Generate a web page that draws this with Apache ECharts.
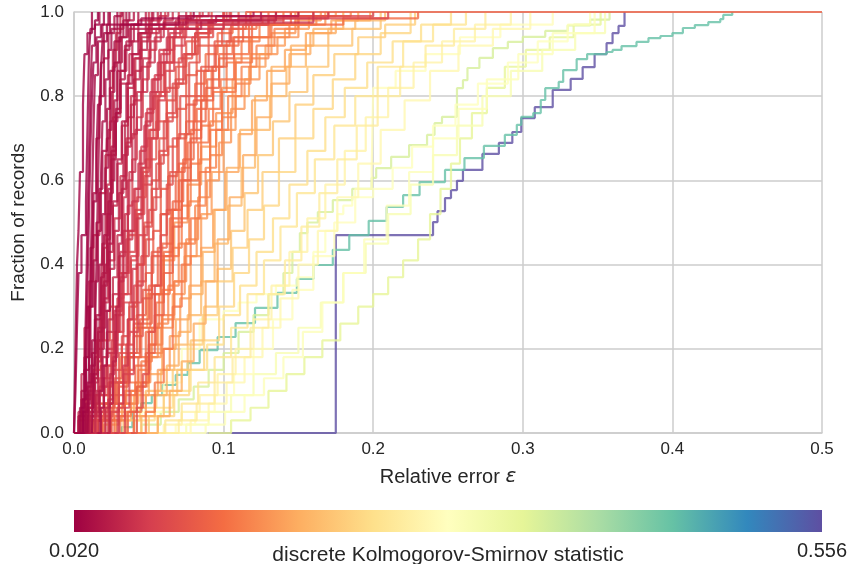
<!DOCTYPE html>
<html>
<head>
<meta charset="utf-8">
<script src="https://cdn.jsdelivr.net/npm/echarts@6/dist/echarts.min.js"></script>
<style>
  html, body { margin: 0; padding: 0; background: #fff; }
  #myChart { width: 849px; height: 564px; }
</style>
</head>
<body>
<div id="myChart"></div>
<script>
let myChart = echarts.init(document.getElementById('myChart'));

// colour scale ends (discrete KS statistic)
const ksMin = 0.020;
const ksMax = 0.556;

// KS statistic of every curve (same order as curves)
const ksStat = [
  0.020, 0.023, 0.026, 0.029, 0.032, 0.035, 0.038, 0.041, 0.044, 0.047, 0.050, 0.054, 0.057, 0.060,
  0.065, 0.070, 0.075, 0.080, 0.085, 0.090, 0.095, 0.100, 0.105, 0.110, 0.115,
  0.120, 0.126, 0.132, 0.138, 0.145, 0.152, 0.160, 0.168, 0.176, 0.185, 0.194,
  0.205, 0.215, 0.225, 0.235, 0.245, 0.255,
  0.265, 0.275, 0.285, 0.295, 0.305,
  0.028, 0.040, 0.052, 0.062, 0.080, 0.098, 0.125, 0.160,
  0.022, 0.025, 0.030, 0.034, 0.037, 0.043, 0.048, 0.053, 0.058, 0.063, 0.068,
  0.073, 0.078, 0.083, 0.088, 0.093, 0.103, 0.112, 0.118, 0.135, 0.150, 0.180,
  0.290, 0.340, 0.355, 0.450, 0.556
];

// step points [relative error, fraction of records] of each ECDF
const curves = [
  [[0.000,0],[0.001,0.10],[0.002,0.25],[0.003,0.38],[0.005,0.47],[0.008,0.55],[0.009,0.72],[0.010,0.90],[0.011,0.96],[0.014,0.98],[0.016,1]],
  [[0.002,0],[0.006,0.08],[0.008,0.20],[0.009,0.35],[0.010,0.52],[0.011,0.68],[0.012,0.80],[0.013,0.88],[0.015,0.94],[0.018,0.97],[0.020,1]],
  [[0.001,0],[0.004,0.06],[0.007,0.15],[0.010,0.30],[0.012,0.42],[0.013,0.55],[0.015,0.66],[0.016,0.78],[0.018,0.86],[0.019,0.93],[0.022,0.97],[0.045,0.985],[0.080,1]],
  [[0.003,0],[0.006,0.05],[0.009,0.12],[0.012,0.22],[0.014,0.36],[0.016,0.48],[0.018,0.60],[0.019,0.74],[0.021,0.84],[0.023,0.91],[0.025,0.96],[0.029,1]],
  [[0.000,0],[0.003,0.04],[0.005,0.10],[0.008,0.18],[0.011,0.30],[0.013,0.41],[0.015,0.50],[0.017,0.58],[0.019,0.67],[0.022,0.77],[0.024,0.86],[0.027,0.93],[0.031,0.97],[0.070,0.99],[0.120,1]],
  [[0.004,0],[0.008,0.07],[0.011,0.16],[0.014,0.27],[0.017,0.40],[0.019,0.52],[0.021,0.63],[0.023,0.72],[0.025,0.81],[0.027,0.88],[0.030,0.94],[0.033,0.98],[0.037,1]],
  [[0.001,0],[0.005,0.05],[0.009,0.11],[0.012,0.19],[0.015,0.28],[0.018,0.37],[0.020,0.47],[0.023,0.58],[0.025,0.67],[0.028,0.77],[0.031,0.86],[0.034,0.92],[0.038,0.97],[0.043,1]],
  [[0.005,0],[0.009,0.06],[0.013,0.14],[0.016,0.24],[0.019,0.35],[0.022,0.46],[0.024,0.57],[0.026,0.66],[0.028,0.76],[0.031,0.84],[0.034,0.91],[0.037,0.96],[0.060,0.975],[0.095,0.99],[0.150,1]],
  [[0.002,0],[0.006,0.04],[0.010,0.10],[0.014,0.18],[0.017,0.27],[0.020,0.36],[0.023,0.45],[0.026,0.55],[0.029,0.65],[0.032,0.74],[0.035,0.83],[0.039,0.90],[0.043,0.95],[0.048,0.98],[0.053,1]],
  [[0.008,0],[0.011,0.05],[0.014,0.13],[0.016,0.22],[0.018,0.33],[0.019,0.45],[0.021,0.58],[0.022,0.70],[0.024,0.82],[0.026,0.91],[0.029,0.96],[0.033,1]],
  [[0.003,0],[0.008,0.05],[0.012,0.12],[0.016,0.20],[0.020,0.29],[0.024,0.39],[0.027,0.48],[0.030,0.57],[0.033,0.66],[0.036,0.75],[0.040,0.84],[0.044,0.91],[0.049,0.96],[0.085,0.98],[0.135,1]],
  [[0.006,0],[0.010,0.04],[0.015,0.10],[0.019,0.18],[0.023,0.27],[0.026,0.37],[0.029,0.47],[0.032,0.58],[0.035,0.68],[0.038,0.78],[0.041,0.86],[0.045,0.93],[0.050,0.97],[0.056,1]],
  [[0.011,0],[0.014,0.07],[0.016,0.17],[0.018,0.30],[0.020,0.44],[0.022,0.59],[0.024,0.74],[0.026,0.87],[0.028,0.95],[0.031,1]],
  [[0.004,0],[0.009,0.04],[0.014,0.09],[0.018,0.16],[0.022,0.24],[0.026,0.33],[0.030,0.42],[0.034,0.52],[0.037,0.62],[0.041,0.72],[0.045,0.81],[0.049,0.88],[0.054,0.94],[0.060,0.98],[0.066,1]],
  [[0.007,0],[0.012,0.05],[0.017,0.11],[0.022,0.19],[0.027,0.28],[0.031,0.37],[0.035,0.46],[0.039,0.55],[0.043,0.64],[0.047,0.73],[0.051,0.81],[0.056,0.88],[0.062,0.94],[0.068,0.98],[0.075,1]],
  [[0.002,0],[0.007,0.03],[0.012,0.07],[0.017,0.13],[0.022,0.20],[0.027,0.29],[0.032,0.38],[0.036,0.48],[0.040,0.58],[0.044,0.67],[0.048,0.76],[0.053,0.84],[0.058,0.90],[0.064,0.95],[0.072,0.97],[0.110,0.985],[0.170,1]],
  [[0.010,0],[0.015,0.06],[0.020,0.13],[0.025,0.22],[0.029,0.32],[0.033,0.43],[0.036,0.54],[0.039,0.65],[0.042,0.75],[0.046,0.84],[0.050,0.91],[0.055,0.96],[0.061,1]],
  [[0.005,0],[0.011,0.04],[0.017,0.09],[0.023,0.16],[0.028,0.24],[0.033,0.33],[0.038,0.42],[0.043,0.52],[0.047,0.61],[0.051,0.70],[0.056,0.79],[0.061,0.86],[0.067,0.92],[0.074,0.96],[0.082,0.99],[0.090,1]],
  [[0.013,0],[0.018,0.05],[0.023,0.12],[0.028,0.21],[0.033,0.31],[0.038,0.41],[0.042,0.52],[0.046,0.62],[0.050,0.72],[0.055,0.81],[0.060,0.88],[0.066,0.94],[0.073,0.98],[0.140,0.99],[0.200,1]],
  [[0.008,0],[0.014,0.04],[0.020,0.09],[0.026,0.15],[0.032,0.23],[0.037,0.31],[0.042,0.40],[0.047,0.49],[0.052,0.58],[0.057,0.67],[0.062,0.76],[0.068,0.84],[0.074,0.90],[0.081,0.95],[0.090,0.98],[0.100,1]],
  [[0.003,0],[0.010,0.03],[0.017,0.07],[0.024,0.12],[0.030,0.19],[0.036,0.27],[0.042,0.36],[0.048,0.46],[0.053,0.56],[0.058,0.66],[0.063,0.75],[0.069,0.83],[0.075,0.90],[0.083,0.95],[0.092,0.98],[0.102,1]],
  [[0.015,0],[0.021,0.06],[0.027,0.13],[0.032,0.21],[0.037,0.30],[0.042,0.40],[0.047,0.50],[0.052,0.60],[0.057,0.70],[0.062,0.79],[0.068,0.87],[0.075,0.93],[0.083,0.97],[0.092,1]],
  [[0.006,0],[0.013,0.03],[0.020,0.07],[0.027,0.12],[0.034,0.18],[0.040,0.26],[0.046,0.34],[0.052,0.43],[0.058,0.52],[0.063,0.61],[0.069,0.70],[0.075,0.78],[0.082,0.86],[0.090,0.92],[0.099,0.96],[0.110,1]],
  [[0.018,0],[0.024,0.05],[0.030,0.11],[0.036,0.19],[0.042,0.28],[0.048,0.38],[0.053,0.48],[0.058,0.58],[0.063,0.68],[0.069,0.77],[0.075,0.85],[0.082,0.92],[0.090,0.96],[0.100,1]],
  [[0.009,0],[0.016,0.03],[0.023,0.07],[0.030,0.12],[0.037,0.19],[0.044,0.27],[0.050,0.35],[0.056,0.44],[0.062,0.53],[0.068,0.62],[0.074,0.71],[0.080,0.79],[0.087,0.86],[0.095,0.92],[0.104,0.96],[0.115,1],[0.500,1]],
  [[0.004,0],[0.012,0.03],[0.020,0.07],[0.028,0.12],[0.036,0.18],[0.044,0.25],[0.051,0.33],[0.058,0.42],[0.064,0.51],[0.070,0.60],[0.076,0.69],[0.082,0.77],[0.089,0.84],[0.097,0.90],[0.106,0.94],[0.117,0.97],[0.130,1]],
  [[0.020,0],[0.027,0.04],[0.034,0.09],[0.041,0.16],[0.048,0.24],[0.054,0.33],[0.060,0.43],[0.066,0.53],[0.072,0.63],[0.078,0.72],[0.085,0.80],[0.092,0.87],[0.100,0.92],[0.110,0.96],[0.122,0.97],[0.180,0.985],[0.230,1]],
  [[0.011,0],[0.019,0.03],[0.027,0.07],[0.035,0.12],[0.043,0.18],[0.050,0.25],[0.057,0.33],[0.064,0.42],[0.070,0.51],[0.076,0.60],[0.083,0.69],[0.090,0.77],[0.098,0.84],[0.107,0.90],[0.117,0.94],[0.130,0.97],[0.145,1]],
  [[0.024,0],[0.031,0.04],[0.038,0.10],[0.045,0.17],[0.052,0.25],[0.059,0.34],[0.066,0.44],[0.072,0.54],[0.078,0.64],[0.085,0.73],[0.093,0.81],[0.102,0.88],[0.112,0.93],[0.124,0.97],[0.140,1]],
  [[0.007,0],[0.016,0.03],[0.025,0.06],[0.034,0.10],[0.043,0.15],[0.051,0.21],[0.059,0.28],[0.067,0.36],[0.074,0.45],[0.081,0.54],[0.088,0.63],[0.095,0.72],[0.103,0.80],[0.112,0.87],[0.122,0.92],[0.134,0.96],[0.150,1]],
  [[0.028,0],[0.035,0.05],[0.042,0.11],[0.049,0.18],[0.056,0.26],[0.063,0.35],[0.070,0.45],[0.077,0.55],[0.084,0.65],[0.091,0.74],[0.099,0.82],[0.108,0.89],[0.118,0.94],[0.131,0.97],[0.148,1]],
  [[0.014,0],[0.023,0.03],[0.032,0.07],[0.041,0.12],[0.050,0.18],[0.058,0.25],[0.066,0.33],[0.074,0.42],[0.082,0.51],[0.089,0.60],[0.097,0.69],[0.105,0.77],[0.114,0.84],[0.124,0.90],[0.136,0.94],[0.150,0.97],[0.168,1]],
  [[0.032,0],[0.040,0.04],[0.048,0.09],[0.056,0.15],[0.064,0.23],[0.071,0.32],[0.078,0.42],[0.085,0.52],[0.092,0.62],[0.100,0.72],[0.108,0.80],[0.117,0.87],[0.128,0.92],[0.141,0.96],[0.157,0.99],[0.175,1]],
  [[0.010,0],[0.020,0.02],[0.030,0.05],[0.040,0.09],[0.050,0.14],[0.059,0.20],[0.068,0.27],[0.077,0.35],[0.085,0.44],[0.093,0.53],[0.101,0.62],[0.110,0.71],[0.119,0.79],[0.129,0.86],[0.141,0.91],[0.155,0.95],[0.172,0.98],[0.190,1]],
  [[0.036,0],[0.045,0.04],[0.054,0.09],[0.062,0.16],[0.070,0.24],[0.078,0.33],[0.086,0.43],[0.094,0.53],[0.102,0.63],[0.111,0.72],[0.121,0.80],[0.132,0.87],[0.145,0.92],[0.160,0.96],[0.180,1]],
  [[0.018,0],[0.028,0.03],[0.038,0.06],[0.048,0.10],[0.058,0.15],[0.067,0.21],[0.076,0.28],[0.085,0.36],[0.094,0.45],[0.103,0.54],[0.112,0.63],[0.121,0.72],[0.131,0.80],[0.142,0.87],[0.155,0.92],[0.170,0.96],[0.188,0.98],[0.208,1]],
  [[0.040,0],[0.050,0.04],[0.060,0.09],[0.069,0.15],[0.078,0.22],[0.087,0.30],[0.096,0.39],[0.105,0.48],[0.114,0.57],[0.123,0.66],[0.133,0.74],[0.144,0.81],[0.156,0.87],[0.170,0.92],[0.186,0.96],[0.205,1]],
  [[0.022,0],[0.033,0.03],[0.044,0.06],[0.055,0.10],[0.066,0.15],[0.076,0.21],[0.086,0.28],[0.096,0.36],[0.106,0.44],[0.116,0.53],[0.126,0.62],[0.137,0.70],[0.148,0.78],[0.160,0.85],[0.174,0.90],[0.190,0.94],[0.208,0.97],[0.228,1]],
  [[0.045,0],[0.056,0.04],[0.067,0.09],[0.077,0.15],[0.087,0.22],[0.097,0.30],[0.107,0.38],[0.117,0.46],[0.127,0.54],[0.137,0.62],[0.148,0.70],[0.160,0.77],[0.173,0.84],[0.188,0.90],[0.205,0.95],[0.225,1]],
  [[0.030,0],[0.042,0.03],[0.054,0.06],[0.066,0.10],[0.078,0.15],[0.089,0.21],[0.100,0.28],[0.111,0.35],[0.122,0.43],[0.133,0.51],[0.144,0.59],[0.156,0.67],[0.168,0.75],[0.181,0.82],[0.196,0.88],[0.213,0.93],[0.232,0.97],[0.252,1]],
  [[0.050,0],[0.061,0.03],[0.072,0.07],[0.083,0.12],[0.094,0.18],[0.105,0.25],[0.116,0.33],[0.127,0.41],[0.138,0.49],[0.149,0.57],[0.161,0.65],[0.174,0.73],[0.188,0.80],[0.203,0.87],[0.220,0.93],[0.240,0.97],[0.262,1]],
  [[0.058,0],[0.070,0.03],[0.082,0.07],[0.094,0.12],[0.106,0.18],[0.118,0.25],[0.130,0.33],[0.141,0.41],[0.152,0.49],[0.164,0.57],[0.176,0.65],[0.189,0.73],[0.203,0.80],[0.218,0.87],[0.235,0.92],[0.254,0.96],[0.275,1]],
  [[0.048,0],[0.060,0.02],[0.072,0.05],[0.084,0.09],[0.096,0.14],[0.108,0.20],[0.120,0.27],[0.132,0.35],[0.144,0.43],[0.156,0.51],[0.168,0.59],[0.181,0.67],[0.195,0.75],[0.210,0.82],[0.227,0.88],[0.246,0.93],[0.268,0.97],[0.292,1]],
  [[0.065,0],[0.078,0.03],[0.090,0.07],[0.102,0.12],[0.114,0.18],[0.126,0.25],[0.138,0.32],[0.150,0.40],[0.163,0.48],[0.176,0.56],[0.190,0.64],[0.205,0.72],[0.221,0.79],[0.238,0.86],[0.257,0.92],[0.280,0.96],[0.305,1]],
  [[0.055,0],[0.068,0.02],[0.081,0.05],[0.094,0.09],[0.107,0.14],[0.120,0.20],[0.133,0.27],[0.146,0.34],[0.160,0.42],[0.174,0.50],[0.188,0.58],[0.199,0.63],[0.200,0.82],[0.215,0.86],[0.235,0.90],[0.258,0.94],[0.285,0.97],[0.320,1]],
  [[0.075,0],[0.088,0.02],[0.101,0.05],[0.114,0.09],[0.127,0.13],[0.140,0.18],[0.153,0.24],[0.166,0.31],[0.180,0.38],[0.194,0.46],[0.209,0.54],[0.224,0.62],[0.240,0.70],[0.257,0.77],[0.276,0.84],[0.297,0.90],[0.320,0.95],[0.348,1]],
  [[0.060,0],[0.075,0.02],[0.090,0.05],[0.105,0.09],[0.120,0.14],[0.135,0.19],[0.150,0.25],[0.165,0.31],[0.180,0.38],[0.195,0.45],[0.210,0.52],[0.225,0.59],[0.240,0.66],[0.256,0.73],[0.273,0.80],[0.292,0.86],[0.313,0.91],[0.335,0.95],[0.355,1]],
  [[0.009,0],[0.010,0.15],[0.011,0.35],[0.012,0.55],[0.013,0.72],[0.014,0.85],[0.016,0.93],[0.019,0.97],[0.023,1]],
  [[0.015,0],[0.017,0.10],[0.019,0.25],[0.021,0.40],[0.023,0.55],[0.025,0.68],[0.027,0.79],[0.029,0.88],[0.032,0.94],[0.036,0.98],[0.040,1]],
  [[0.001,0],[0.003,0.05],[0.005,0.14],[0.007,0.25],[0.010,0.36],[0.013,0.47],[0.017,0.57],[0.021,0.66],[0.026,0.75],[0.031,0.83],[0.037,0.90],[0.044,0.95],[0.052,1]],
  [[0.020,0],[0.023,0.08],[0.026,0.18],[0.029,0.30],[0.031,0.43],[0.033,0.56],[0.035,0.69],[0.038,0.80],[0.041,0.89],[0.045,0.95],[0.050,1]],
  [[0.025,0],[0.029,0.06],[0.033,0.14],[0.037,0.24],[0.040,0.35],[0.043,0.47],[0.046,0.59],[0.049,0.70],[0.053,0.80],[0.058,0.88],[0.064,0.94],[0.071,0.98],[0.078,1]],
  [[0.000,0],[0.004,0.04],[0.008,0.09],[0.013,0.15],[0.018,0.22],[0.024,0.30],[0.030,0.38],[0.036,0.47],[0.042,0.56],[0.048,0.65],[0.055,0.74],[0.062,0.82],[0.070,0.89],[0.079,0.94],[0.090,0.98],[0.100,1]],
  [[0.035,0],[0.040,0.05],[0.045,0.12],[0.050,0.21],[0.055,0.31],[0.060,0.42],[0.065,0.53],[0.070,0.64],[0.075,0.74],[0.081,0.83],[0.088,0.90],[0.096,0.95],[0.106,0.98],[0.118,1]],
  [[0.002,0],[0.008,0.03],[0.015,0.07],[0.023,0.12],[0.031,0.18],[0.040,0.25],[0.049,0.33],[0.058,0.41],[0.067,0.50],[0.076,0.59],[0.085,0.68],[0.095,0.76],[0.106,0.84],[0.118,0.90],[0.132,0.95],[0.148,0.98],[0.165,1]],
  [[0.000,0],[0.001,0.20],[0.002,0.40],[0.003,0.48],[0.004,0.62],[0.006,0.78],[0.007,0.90],[0.009,0.95],[0.012,1]],
  [[0.005,0],[0.007,0.12],[0.008,0.30],[0.009,0.50],[0.010,0.66],[0.011,0.82],[0.012,0.92],[0.014,0.97],[0.017,1]],
  [[0.012,0],[0.013,0.10],[0.014,0.24],[0.015,0.40],[0.016,0.58],[0.017,0.75],[0.018,0.88],[0.020,0.95],[0.024,1]],
  [[0.002,0],[0.005,0.08],[0.007,0.18],[0.009,0.30],[0.011,0.44],[0.013,0.57],[0.015,0.70],[0.017,0.80],[0.020,0.89],[0.023,0.95],[0.027,0.99],[0.032,1]],
  [[0.016,0],[0.018,0.06],[0.020,0.16],[0.022,0.29],[0.024,0.44],[0.025,0.60],[0.027,0.74],[0.029,0.86],[0.031,0.94],[0.035,1]],
  [[0.007,0],[0.010,0.06],[0.013,0.14],[0.016,0.25],[0.019,0.38],[0.022,0.52],[0.025,0.65],[0.028,0.76],[0.031,0.86],[0.035,0.93],[0.040,0.97],[0.075,0.98],[0.125,1]],
  [[0.022,0],[0.024,0.07],[0.026,0.17],[0.028,0.30],[0.030,0.45],[0.032,0.60],[0.034,0.74],[0.036,0.85],[0.039,0.93],[0.043,0.98],[0.048,1]],
  [[0.004,0],[0.008,0.06],[0.012,0.13],[0.016,0.22],[0.020,0.32],[0.023,0.43],[0.026,0.54],[0.029,0.64],[0.032,0.73],[0.036,0.82],[0.040,0.89],[0.045,0.94],[0.051,0.98],[0.058,1]],
  [[0.018,0],[0.021,0.06],[0.024,0.14],[0.027,0.24],[0.030,0.36],[0.033,0.48],[0.036,0.60],[0.039,0.71],[0.042,0.81],[0.046,0.89],[0.051,0.95],[0.057,0.99],[0.063,1]],
  [[0.000,0],[0.003,0.03],[0.007,0.08],[0.011,0.14],[0.015,0.22],[0.019,0.31],[0.023,0.41],[0.027,0.51],[0.031,0.61],[0.035,0.70],[0.040,0.79],[0.045,0.87],[0.051,0.93],[0.058,0.96],[0.100,0.975],[0.160,1]],
  [[0.027,0],[0.030,0.07],[0.033,0.16],[0.036,0.27],[0.039,0.39],[0.042,0.51],[0.045,0.63],[0.048,0.74],[0.052,0.84],[0.057,0.91],[0.063,0.96],[0.070,1]],
  [[0.010,0],[0.015,0.05],[0.020,0.11],[0.025,0.19],[0.029,0.28],[0.033,0.38],[0.037,0.48],[0.041,0.58],[0.045,0.68],[0.049,0.77],[0.054,0.85],[0.060,0.91],[0.067,0.96],[0.076,0.99],[0.086,1]],
  [[0.031,0],[0.034,0.06],[0.037,0.14],[0.040,0.24],[0.043,0.35],[0.046,0.47],[0.049,0.59],[0.052,0.70],[0.056,0.80],[0.061,0.88],[0.067,0.94],[0.075,0.98],[0.084,1]],
  [[0.003,0],[0.009,0.04],[0.015,0.09],[0.021,0.16],[0.026,0.24],[0.031,0.33],[0.036,0.43],[0.041,0.53],[0.046,0.63],[0.051,0.72],[0.057,0.81],[0.064,0.88],[0.072,0.94],[0.082,0.97],[0.130,0.985],[0.210,1]],
  [[0.020,0],[0.025,0.05],[0.030,0.12],[0.035,0.21],[0.040,0.31],[0.045,0.42],[0.050,0.53],[0.055,0.64],[0.060,0.74],[0.066,0.83],[0.073,0.90],[0.081,0.95],[0.091,0.98],[0.104,1]],
  [[0.038,0],[0.042,0.06],[0.046,0.14],[0.050,0.24],[0.054,0.35],[0.058,0.47],[0.062,0.59],[0.066,0.70],[0.071,0.80],[0.077,0.88],[0.084,0.94],[0.093,0.98],[0.105,1]],
  [[0.012,0],[0.019,0.04],[0.026,0.09],[0.033,0.15],[0.040,0.23],[0.046,0.32],[0.052,0.42],[0.058,0.52],[0.064,0.62],[0.070,0.71],[0.077,0.80],[0.085,0.87],[0.094,0.93],[0.105,0.97],[0.118,0.99],[0.135,1]],
  [[0.030,0],[0.036,0.05],[0.042,0.11],[0.048,0.19],[0.054,0.28],[0.060,0.38],[0.066,0.49],[0.072,0.60],[0.078,0.70],[0.085,0.79],[0.093,0.87],[0.102,0.93],[0.113,0.97],[0.126,0.99],[0.145,1]],
  [[0.005,0],[0.013,0.03],[0.021,0.07],[0.029,0.12],[0.037,0.18],[0.045,0.26],[0.052,0.35],[0.059,0.45],[0.066,0.55],[0.073,0.65],[0.080,0.74],[0.088,0.82],[0.097,0.89],[0.107,0.94],[0.119,0.97],[0.134,0.99],[0.160,1]],
  [[0.042,0],[0.048,0.05],[0.054,0.12],[0.060,0.20],[0.066,0.30],[0.072,0.40],[0.078,0.51],[0.084,0.62],[0.091,0.72],[0.099,0.81],[0.108,0.88],[0.119,0.94],[0.132,0.97],[0.150,0.99],[0.170,1]],
  [[0.016,0],[0.025,0.03],[0.034,0.07],[0.043,0.12],[0.051,0.19],[0.059,0.27],[0.067,0.36],[0.075,0.46],[0.083,0.56],[0.091,0.66],[0.099,0.75],[0.108,0.83],[0.118,0.89],[0.130,0.94],[0.144,0.97],[0.162,0.99],[0.185,1]],
  [[0.048,0],[0.056,0.04],[0.064,0.10],[0.072,0.17],[0.080,0.26],[0.088,0.36],[0.096,0.46],[0.104,0.56],[0.113,0.66],[0.122,0.75],[0.132,0.83],[0.144,0.90],[0.158,0.95],[0.175,0.98],[0.198,1]],
  [[0.030,0],[0.045,0.05],[0.060,0.12],[0.072,0.20],[0.084,0.27],[0.100,0.29],[0.110,0.31],[0.122,0.33],[0.135,0.35],[0.149,0.37],[0.160,0.43],[0.168,0.48],[0.176,0.52],[0.180,0.54],[0.186,0.56],[0.200,0.58],[0.213,0.63],[0.226,0.68],[0.240,0.73],[0.255,0.78],[0.270,0.83],[0.290,0.88],[0.310,0.93],[0.330,0.97],[0.345,1]],
  [[0.090,0],[0.105,0.03],[0.118,0.06],[0.130,0.10],[0.142,0.14],[0.154,0.18],[0.166,0.22],[0.178,0.26],[0.190,0.30],[0.200,0.33],[0.210,0.37],[0.220,0.41],[0.230,0.46],[0.238,0.52],[0.245,0.58],[0.252,0.64],[0.258,0.70],[0.266,0.76],[0.276,0.82],[0.288,0.87],[0.302,0.91],[0.318,0.94],[0.334,0.97],[0.352,1]],
  [[0.030,0],[0.045,0.02],[0.058,0.05],[0.070,0.08],[0.080,0.11],[0.090,0.15],[0.100,0.19],[0.110,0.24],[0.120,0.28],[0.130,0.33],[0.140,0.38],[0.146,0.43],[0.151,0.475],[0.156,0.50],[0.163,0.525],[0.173,0.553],[0.186,0.58],[0.199,0.606],[0.202,0.629],[0.212,0.656],[0.224,0.684],[0.236,0.708],[0.241,0.736],[0.246,0.751],[0.256,0.819],[0.260,0.838],[0.263,0.867],[0.271,0.891],[0.280,0.914],[0.290,0.929],[0.300,0.941],[0.315,0.955],[0.330,0.968],[0.345,0.982],[0.358,1]],
  [[0.022,0],[0.032,0.014],[0.039,0.050],[0.045,0.071],[0.052,0.090],[0.059,0.114],[0.068,0.138],[0.076,0.166],[0.084,0.197],[0.096,0.228],[0.108,0.261],[0.121,0.297],[0.136,0.333],[0.149,0.366],[0.160,0.399],[0.173,0.435],[0.184,0.470],[0.197,0.504],[0.209,0.537],[0.220,0.565],[0.231,0.596],[0.248,0.625],[0.261,0.653],[0.274,0.682],[0.288,0.708],[0.296,0.732],[0.299,0.751],[0.307,0.760],[0.312,0.791],[0.315,0.819],[0.324,0.834],[0.327,0.862],[0.336,0.888],[0.343,0.900],[0.356,0.905],[0.360,0.910],[0.366,0.919],[0.376,0.929],[0.384,0.938],[0.392,0.943],[0.400,0.950],[0.407,0.962],[0.415,0.969],[0.424,0.976],[0.432,0.983],[0.434,0.993],[0.440,1]],
  [[0.090,0],[0.175,0.470],[0.240,0.501],[0.243,0.527],[0.248,0.558],[0.252,0.577],[0.256,0.599],[0.260,0.625],[0.273,0.663],[0.284,0.689],[0.293,0.715],[0.299,0.748],[0.308,0.774],[0.320,0.815],[0.332,0.841],[0.340,0.869],[0.348,0.900],[0.356,0.926],[0.360,0.950],[0.364,0.967],[0.368,1]]
];

const spectral = ['#9e0142', '#d53e4f', '#f46d43', '#fdae61', '#fee08b', '#ffffbf',
  '#e6f598', '#abdda4', '#66c2a5', '#3288bd', '#5e4fa2'];

function hexToRgb(h) {
  return [parseInt(h.slice(1, 3), 16), parseInt(h.slice(3, 5), 16), parseInt(h.slice(5, 7), 16)];
}

function ksColor(v) {
  let t = Math.min(1, Math.max(0, (v - ksMin) / (ksMax - ksMin))) * (spectral.length - 1);
  let i = Math.min(Math.floor(t), spectral.length - 2);
  let f = t - i;
  let a = hexToRgb(spectral[i]), b = hexToRgb(spectral[i + 1]);
  let c = a.map((x, k) => Math.round(x + (b[k] - x) * f));
  return 'rgb(' + c.join(',') + ')';
}

// draw the worst curves first so the good ones sit on top
const order = ksStat.map((v, i) => i).sort((a, b) => ksStat[b] - ksStat[a]);

const series = order.map(function (i) {
  return {
    type: 'line',
    step: 'end',
    data: curves[i],
    showSymbol: false,
    silent: true,
    lineStyle: { width: 2.2, color: ksColor(ksStat[i]), opacity: 0.8 },
  };
});

const gridColor = '#cccccc';
const textColor = '#262626';

let myChartOption = {
  animation: false,
  backgroundColor: '#ffffff',
  textStyle: { fontFamily: 'Liberation Sans' },
  grid: { left: 74, right: 27, top: 12, bottom: 131 },
  xAxis: {
    type: 'value',
    min: 0,
    max: 0.5,
    interval: 0.1,
    name: '{n|Relative error }{e|ε}',
    nameLocation: 'middle',
    nameGap: 34,
    nameTextStyle: {
      rich: {
        n: { fontSize: 20, color: textColor, fontFamily: 'Liberation Sans' },
        e: { fontSize: 20, color: textColor, fontStyle: 'italic', fontFamily: 'DejaVu Sans' },
      },
    },
    axisLine: { show: true, lineStyle: { color: gridColor, width: 1.5 } },
    axisTick: { show: false },
    axisLabel: { fontSize: 17, color: textColor, margin: 8, formatter: (v) => v.toFixed(1) },
    splitLine: { show: true, lineStyle: { color: gridColor, width: 1.5 } },
  },
  yAxis: {
    type: 'value',
    min: 0,
    max: 1,
    interval: 0.2,
    name: 'Fraction of records',
    nameLocation: 'middle',
    nameGap: 46,
    nameTextStyle: { fontSize: 19, color: textColor },
    axisLine: { show: true, lineStyle: { color: gridColor, width: 1.5 } },
    axisTick: { show: false },
    axisLabel: { fontSize: 17, color: textColor, margin: 10, formatter: (v) => v.toFixed(1) },
    splitLine: { show: true, lineStyle: { color: gridColor, width: 1.5 } },
  },
  series: series,
  graphic: [
    {
      type: 'rect',
      shape: { x: 74, y: 510, width: 748, height: 22 },
      style: {
        fill: new echarts.graphic.LinearGradient(0, 0, 1, 0,
          spectral.map((c, i) => ({ offset: i / (spectral.length - 1), color: c }))),
      },
    },
    {
      type: 'text',
      x: 74, y: 541,
      style: { text: ksMin.toFixed(3), fontSize: 20, fill: textColor, align: 'center', fontFamily: 'Liberation Sans' },
    },
    {
      type: 'text',
      x: 822, y: 541,
      style: { text: ksMax.toFixed(3), fontSize: 20, fill: textColor, align: 'center', fontFamily: 'Liberation Sans' },
    },
    {
      type: 'text',
      x: 448, y: 545,
      style: { text: 'discrete Kolmogorov-Smirnov statistic', fontSize: 21, fill: textColor, align: 'center', fontFamily: 'Liberation Sans' },
    },
  ],
};

myChart.setOption(myChartOption);
</script>
</body>
</html>
